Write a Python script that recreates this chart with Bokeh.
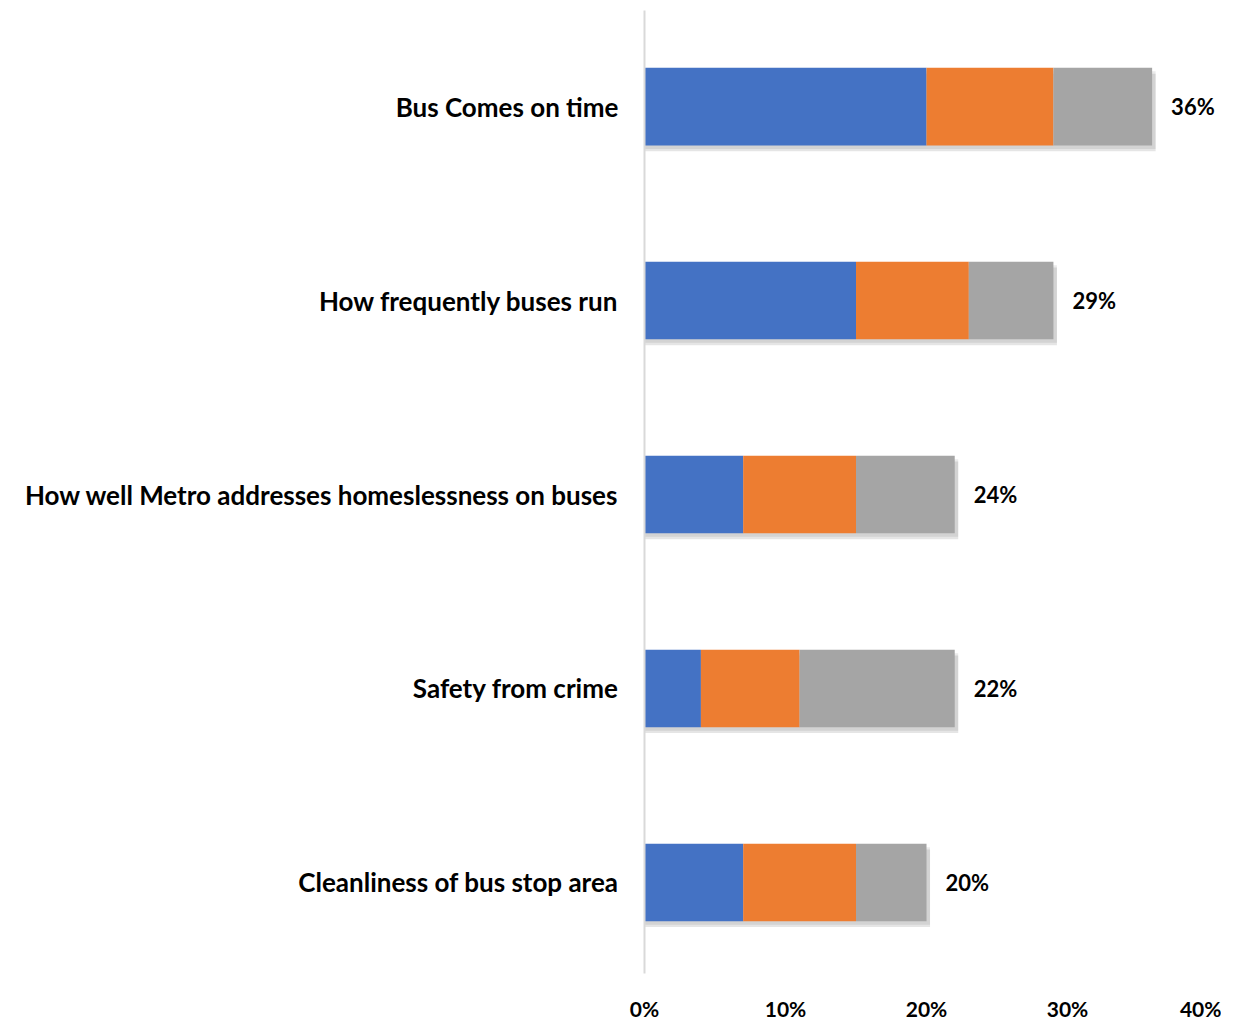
from bokeh.plotting import figure
from bokeh.models import ColumnDataSource, Range1d, FixedTicker
from bokeh.core.properties import value
from bokeh.embed import file_html
from bokeh.resources import INLINE

categories = ["Bus Comes on time", "How frequently buses run",
              "How well Metro addresses homeslessness on buses",
              "Safety from crime", "Cleanliness of bus stop area"]
series_a = [20, 15, 7, 4, 7]
series_b = [9, 8, 8, 7, 8]
series_c = [7, 6, 7, 11, 5]
total_labels = ["36%", "29%", "24%", "22%", "20%"]
tick_values = [0, 10, 20, 30, 40]
tick_labels = ["0%", "10%", "20%", "30%", "40%"]

colors = ["#4472C4", "#ED7D31", "#A5A5A5"]
FONT = "Lato"

n = len(categories)
ypos = [n - 1 - i for i in range(n)]   # first category on top
a_end = [a for a in series_a]
b_end = [a + b for a, b in zip(series_a, series_b)]
c_end = [a + b + c for a, b, c in zip(series_a, series_b, series_c)]

src = ColumnDataSource(dict(
    y=ypos,
    y_sh1=[v - 0.03 for v in ypos],
    y_sh2=[v - 0.018 for v in ypos],
    zero=[0] * n,
    a_end=a_end, b_end=b_end, c_end=c_end,
    shadow_r=[v + 0.25 for v in c_end],
    lab=total_labels,
))

p = figure(width=1221, height=1023, output_backend="svg", toolbar_location=None,
           y_range=Range1d(-0.4695, n - 1 + 0.4955), x_range=Range1d(0, 40.92),
           min_border_left=644, min_border_right=0, min_border_top=10,
           min_border_bottom=46)

p.outline_line_color = None
p.xgrid.grid_line_color = None
p.ygrid.grid_line_color = None
p.background_fill_color = "white"
p.border_fill_color = "white"

# soft drop shadow
p.hbar(y="y_sh1", left="zero", right="shadow_r", height=0.4, source=src,
       fill_color="#000000", fill_alpha=0.10, line_color=None)
p.hbar(y="y_sh2", left="zero", right="shadow_r", height=0.4, source=src,
       fill_color="#000000", fill_alpha=0.08, line_color=None)

p.hbar(y="y", left="zero", right="a_end", height=0.4, source=src,
       fill_color=colors[0], line_color=None)
p.hbar(y="y", left="a_end", right="b_end", height=0.4, source=src,
       fill_color=colors[1], line_color=None)
p.hbar(y="y", left="b_end", right="c_end", height=0.4, source=src,
       fill_color=colors[2], line_color=None)

p.text(x="c_end", y="y", text="lab", source=src, x_offset=19,
       text_font=value(FONT), text_font_style="bold", text_font_size="22px",
       text_align="left", text_baseline="middle", text_color="#000000")

# y axis
ya = p.yaxis[0]
ya.ticker = FixedTicker(ticks=ypos)
ya.major_label_overrides = {y: c for y, c in zip(ypos, categories)}
ya.axis_line_color = "#D9D9D9"
ya.axis_line_width = 2
ya.major_tick_line_color = None
ya.minor_tick_line_color = None
ya.major_label_standoff = 20
ya.major_label_text_font = FONT
ya.major_label_text_font_style = "bold"
ya.major_label_text_font_size = "26px"
ya.major_label_text_color = "#000000"

# x axis
xa = p.xaxis[0]
xa.ticker = FixedTicker(ticks=tick_values)
xa.major_label_overrides = {v: l for v, l in zip(tick_values, tick_labels)}
xa.axis_line_color = None
xa.major_tick_line_color = None
xa.minor_tick_line_color = None
xa.major_label_standoff = 16
xa.major_label_text_font = FONT
xa.major_label_text_font_style = "bold"
xa.major_label_text_font_size = "21px"
xa.major_label_text_color = "#000000"

open("out.html", "w").write(file_html(p, INLINE))
